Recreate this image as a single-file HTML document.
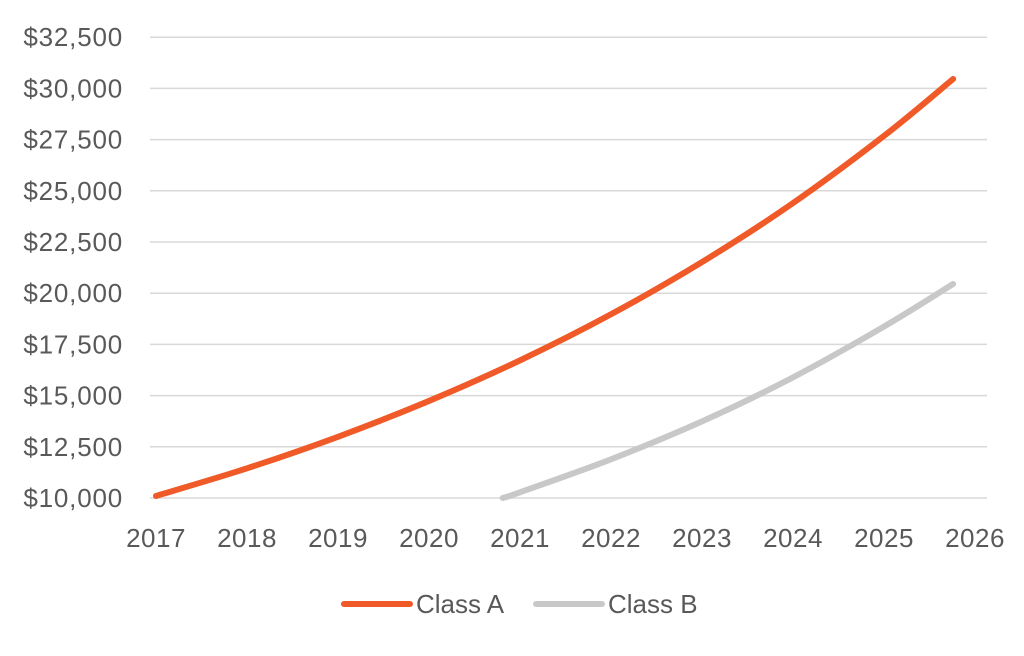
<!DOCTYPE html>
<html><head><meta charset="utf-8">
<style>
html,body{margin:0;padding:0;background:#fff;width:1024px;height:656px;overflow:hidden}
svg text{font-family:"Liberation Sans",sans-serif;fill:#595959;font-size:26px}
</style></head>
<body>
<svg id="chart" width="1024" height="656" xmlns="http://www.w3.org/2000/svg">
<g id="grid"></g>
<g id="yaxis"></g>
<g id="xaxis"></g>
<g id="series"></g>
<g id="legend"></g>
</svg>
<script>
const yTicks=[10000,12500,15000,17500,20000,22500,25000,27500,30000,32500];
const xTicks=[2017,2018,2019,2020,2021,2022,2023,2024,2025,2026];
const classAYears=[2017,2018,2019,2020,2021,2022,2023,2024,2025,2025.76];
const classAValues=[10100,11450,12990,14740,16720,18970,21520,24400,27680,30460];
const classBYears=[2020.81,2021,2022,2023,2024,2025,2025.76];
const classBValues=[10000,10280,11890,13740,15890,18370,20450];
const NS='http://www.w3.org/2000/svg';
function xs(v){return 156+(v-2017)*91;}
function ys(v){return 498-(v-10000)/2500*51.2;}
function mk(t,a,p){const e=document.createElementNS(NS,t);for(const k in a)e.setAttribute(k,a[k]);p.appendChild(e);return e;}
const grid=document.getElementById('grid'),ya=document.getElementById('yaxis'),xa=document.getElementById('xaxis');
yTicks.forEach(v=>{
 const l=mk('line',{x1:150,x2:987,y1:ys(v),y2:ys(v),stroke:'#d9d9d9','stroke-width':1.5},grid);
 
 
 const t=mk('text',{x:123,y:ys(v)+9,'text-anchor':'end','letter-spacing':'0.8'},ya);t.textContent='$'+v.toLocaleString('en-US');
 
 
});
xTicks.forEach(v=>{
 const t=mk('text',{x:xs(v),y:547,'text-anchor':'middle','letter-spacing':'0.5'},xa);t.textContent=v;
 
 
});
function path(xv,yv){
 const p=xv.map((x,i)=>[xs(x),ys(yv[i])]);
 let d='M'+p[0][0]+','+p[0][1];
 for(let i=0;i<p.length-1;i++){
  const p0=p[Math.max(0,i-1)],p1=p[i],p2=p[i+1],p3=p[Math.min(p.length-1,i+2)];
  const c1=[p1[0]+(p2[0]-p0[0])/6,p1[1]+(p2[1]-p0[1])/6],c2=[p2[0]-(p3[0]-p1[0])/6,p2[1]-(p3[1]-p1[1])/6];
  d+=' C'+c1+' '+c2+' '+p2;
 }
 return d;
}
const s=document.getElementById('series');
const a=mk('path',{d:path(classAYears,classAValues),fill:'none',stroke:'#f05a28','stroke-width':6,'stroke-linecap':'round'},s);


const b=mk('path',{d:path(classBYears,classBValues),fill:'none',stroke:'#c8c8c8','stroke-width':6,'stroke-linecap':'round'},s);


const lg=document.getElementById('legend');
const l1=mk('line',{x1:344,x2:410,y1:604,y2:604,stroke:'#f05a28','stroke-width':6,'stroke-linecap':'round'},lg);


const t1=mk('text',{x:416,y:613},lg);t1.textContent='Class A';


const l2=mk('line',{x1:536,x2:602,y1:604,y2:604,stroke:'#c8c8c8','stroke-width':6,'stroke-linecap':'round'},lg);


const t2=mk('text',{x:608,y:613},lg);t2.textContent='Class B';


</script>
</body></html>
